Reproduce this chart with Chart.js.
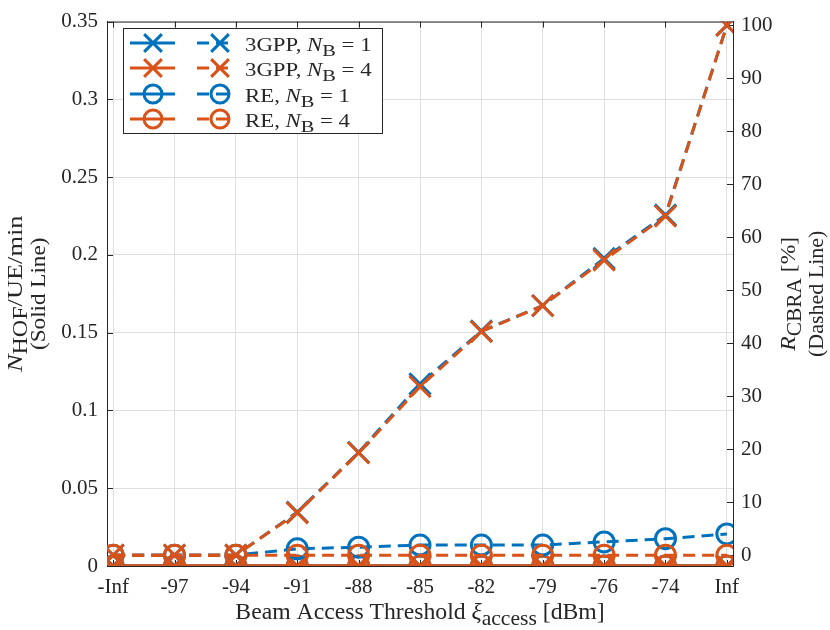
<!DOCTYPE html>
<html>
<head>
<meta charset="utf-8">
<script src="https://cdn.jsdelivr.net/npm/chart.js@4.4.1/dist/chart.umd.min.js"></script>
<style>
  html, body { margin: 0; padding: 0; background: #fff; }
  canvas { display: block; }
</style>
</head>
<body>
<canvas id="chart" width="830" height="630"></canvas>
<script>
// Beam access threshold sweep: HOF rate (left axis, solid) and CBRA share (right axis, dashed)

const CATEGORIES = ['-Inf', '-97', '-94', '-91', '-88', '-85', '-82', '-79', '-76', '-74', 'Inf'];

// N_HOF / UE / min  (left axis, solid lines)
const HOF_3GPP_NB1 = [0, 0, 0, 0, 0, 0, 0, 0, 0, 0, 0];
const HOF_3GPP_NB4 = [0, 0, 0, 0, 0, 0, 0, 0, 0, 0, 0];
const HOF_RE_NB1 = [0, 0, 0, 0, 0, 0, 0, 0, 0, 0, 0];
const HOF_RE_NB4 = [0, 0, 0, 0, 0, 0, 0, 0, 0, 0, 0];

// R_CBRA [%]  (right axis, dashed lines)
const CBRA_3GPP_NB1 = [0, 0, 0, 8.1, 19.4, 32.3, 42.3, 47.1, 56.0, 64.2, 100];
const CBRA_3GPP_NB4 = [0, 0, 0, 8.0, 19.3, 31.8, 42.2, 47.1, 55.7, 64.0, 100];
const CBRA_RE_NB1 = [0, 0, 0, 1.2, 1.5, 1.9, 1.9, 1.9, 2.5, 3.1, 4.0];
const CBRA_RE_NB4 = [0, 0, 0, 0, 0, 0, 0, 0, 0, 0, 0];

const LEFT_TICKS = [0, 0.05, 0.1, 0.15, 0.2, 0.25, 0.3, 0.35];
const RIGHT_TICKS = [0, 10, 20, 30, 40, 50, 60, 70, 80, 90, 100];

const BLUE = '#0072BD';
const ORANGE = '#D95319';
const INK = '#262626';
const GRID = '#dfdfdf';
const FONT = '"Liberation Serif", "Times New Roman", serif';
const NONE = 'rgba(0,0,0,0)';

function toPoints(values) {
  return values.map((v, i) => ({ x: i + 1, y: v }));
}

function markerRadius(marker) {
  return marker === 'crossRot' ? 15 : 10;
}

function series(label, values, color, marker, axis, dashed, order) {
  const r = markerRadius(marker);
  return {
    label,
    data: toPoints(values),
    yAxisID: axis,
    borderColor: color,
    backgroundColor: NONE,
    borderWidth: 3,
    borderDash: dashed ? [12, 7] : [],
    pointStyle: marker,
    pointRadius: r,
    pointHoverRadius: r,
    pointBorderWidth: 3,
    pointBorderColor: color,
    pointBackgroundColor: NONE,
    tension: 0,
    clip: 0,
    order,
  };
}

// rich text: parts = [{t, i (italic), s (subscript)}]; stretch widens the text like the TeX font
function drawRich(ctx, parts, x, y, size, align, stretch = 1, subDrop = 0.32) {
  const fontFor = p => (p.i ? 'italic ' : '') + Math.round(p.s ? size * 0.92 : size) + 'px ' + FONT;
  let w = 0;
  parts.forEach(p => { ctx.font = fontFor(p); w += ctx.measureText(p.t).width; });
  ctx.save();
  ctx.translate(x, y);
  ctx.scale(stretch, 1);
  let cx = align === 'center' ? -w / 2 : 0;
  ctx.textAlign = 'left';
  ctx.textBaseline = 'alphabetic';
  parts.forEach(p => {
    ctx.font = fontFor(p);
    ctx.fillText(p.t, cx, p.s ? size * subDrop : 0);
    cx += ctx.measureText(p.t).width;
  });
  ctx.restore();
}

const LEGEND_ITEMS = [
  { color: BLUE, marker: 'crossRot', parts: [{ t: '3GPP, ' }, { t: 'N', i: true }, { t: 'B', s: true }, { t: ' = 1' }] },
  { color: ORANGE, marker: 'crossRot', parts: [{ t: '3GPP, ' }, { t: 'N', i: true }, { t: 'B', s: true }, { t: ' = 4' }] },
  { color: BLUE, marker: 'circle', parts: [{ t: 'RE, ' }, { t: 'N', i: true }, { t: 'B', s: true }, { t: ' = 1' }] },
  { color: ORANGE, marker: 'circle', parts: [{ t: 'RE, ' }, { t: 'N', i: true }, { t: 'B', s: true }, { t: ' = 4' }] },
];

const framePlugin = {
  id: 'frame',
  beforeDatasetsDraw(chart) {
    const { ctx, chartArea: a, scales } = chart;
    ctx.save();
    ctx.strokeStyle = INK;
    ctx.lineWidth = 1;
    ctx.beginPath();
    ctx.moveTo(a.left, a.top + 0.5);
    ctx.lineTo(a.right, a.top + 0.5);
    scales.x.ticks.forEach(t => {
      const px = Math.round(scales.x.getPixelForValue(t.value)) + 0.5;
      ctx.moveTo(px, a.bottom); ctx.lineTo(px, a.bottom - 6);
      ctx.moveTo(px, a.top); ctx.lineTo(px, a.top + 6);
    });
    scales.yL.ticks.forEach(t => {
      const py = Math.round(scales.yL.getPixelForValue(t.value)) + 0.5;
      ctx.moveTo(a.left, py); ctx.lineTo(a.left + 6, py);
    });
    scales.yR.ticks.forEach(t => {
      const py = Math.round(scales.yR.getPixelForValue(t.value)) + 0.5;
      ctx.moveTo(a.right, py); ctx.lineTo(a.right - 6, py);
    });
    ctx.stroke();
    ctx.restore();
  },
  afterDraw(chart) {
    const { ctx, chartArea: a } = chart;
    const midY = (a.top + a.bottom) / 2;
    ctx.save();
    ctx.fillStyle = INK;

    // x title
    drawRich(ctx, [{ t: 'Beam Access Threshold ' }, { t: 'ξ', i: true }, { t: 'access', s: true }, { t: ' [dBm]' }],
      (a.left + a.right) / 2, 619, 23, 'center', 1.03, 0.25);

    // left title
    ctx.save();
    ctx.translate(22, midY);
    ctx.rotate(-Math.PI / 2);
    drawRich(ctx, [{ t: 'N', i: true }, { t: 'HOF', s: true }, { t: '/UE/min' }], 0, 0, 22, 'center', 1.2, 0.22);
    drawRich(ctx, [{ t: '(Solid Line)' }], 0, 23, 22, 'center', 1.05);
    ctx.restore();

    // right title
    ctx.save();
    ctx.translate(795, midY);
    ctx.rotate(-Math.PI / 2);
    drawRich(ctx, [{ t: 'R', i: true }, { t: 'CBRA', s: true }, { t: ' [%]' }], 0, 0, 22, 'center', 1.07, 0.28);
    drawRich(ctx, [{ t: '(Dashed Line)' }], 0, 28, 22, 'center', 1);
    ctx.restore();

    // legend
    const box = { x: 123.5, y: 28.5, w: 259, h: 105 };
    ctx.fillStyle = '#fff';
    ctx.fillRect(box.x, box.y, box.w, box.h);
    ctx.strokeStyle = INK;
    ctx.lineWidth = 1;
    ctx.strokeRect(box.x, box.y, box.w, box.h);
    const rowY = [43, 68, 94, 119];
    LEGEND_ITEMS.forEach((item, i) => {
      const y = rowY[i];
      ctx.strokeStyle = item.color;
      ctx.fillStyle = NONE;
      ctx.lineWidth = 3;
      ctx.setLineDash([]);
      ctx.beginPath(); ctx.moveTo(130, y); ctx.lineTo(175, y); ctx.stroke();
      ctx.setLineDash([12, 7]);
      ctx.beginPath(); ctx.moveTo(197, y); ctx.lineTo(233, y); ctx.stroke();
      ctx.setLineDash([]);
      const r = item.marker === 'crossRot' ? 12.5 : 9;
      [153, 220].forEach(mx => {
        Chart.helpers.drawPoint(ctx, { pointStyle: item.marker, radius: r, borderWidth: 3, rotation: 0 }, mx, y);
      });
      ctx.fillStyle = INK;
      drawRich(ctx, item.parts, 245, y + 8, 19, 'left', 1.2, 0.28);
    });
    ctx.restore();
  },
};

const tickFont = { family: FONT, size: 21 };

new Chart(document.getElementById('chart'), {
  type: 'line',
  data: {
    datasets: [
      series('CBRA 3GPP NB=4', CBRA_3GPP_NB4, ORANGE, 'crossRot', 'yR', true, 1),
      series('CBRA RE NB=4', CBRA_RE_NB4, ORANGE, 'circle', 'yR', true, 2),
      series('CBRA 3GPP NB=1', CBRA_3GPP_NB1, BLUE, 'crossRot', 'yR', true, 3),
      series('CBRA RE NB=1', CBRA_RE_NB1, BLUE, 'circle', 'yR', true, 4),
      series('HOF RE NB=4', HOF_RE_NB4, ORANGE, 'circle', 'yL', false, 5),
      series('HOF 3GPP NB=4', HOF_3GPP_NB4, ORANGE, 'crossRot', 'yL', false, 6),
      series('HOF RE NB=1', HOF_RE_NB1, BLUE, 'circle', 'yL', false, 7),
      series('HOF 3GPP NB=1', HOF_3GPP_NB1, BLUE, 'crossRot', 'yL', false, 8),
    ],
  },
  options: {
    responsive: false,
    animation: false,
    events: [],
    layout: { padding: { top: 12, left: 0, right: 0, bottom: 0 } },
    plugins: { legend: { display: false }, tooltip: { enabled: false } },
    scales: {
      x: {
        type: 'linear',
        min: 0.9,
        max: 11.1,
        afterBuildTicks: s => { s.ticks = CATEGORIES.map((c, i) => ({ value: i + 1 })); },
        afterFit: s => { s.height = 64; },
        grid: { color: GRID, drawTicks: false },
        border: { color: INK, width: 1 },
        ticks: {
          font: tickFont, color: INK, padding: 9, autoSkip: false, maxRotation: 0,
          callback: v => CATEGORIES[Math.round(v) - 1],
        },
      },
      yL: {
        position: 'left',
        min: 0,
        max: 0.35,
        afterBuildTicks: s => { s.ticks = LEFT_TICKS.map(v => ({ value: v })); },
        afterFit: s => { s.width = 107; },
        grid: { color: GRID, drawTicks: false },
        border: { color: INK, width: 1 },
        ticks: { font: tickFont, color: INK, padding: 9, callback: v => String(+v.toFixed(2)) },
      },
      yR: {
        position: 'right',
        min: -2.05,
        max: 100.7,
        afterBuildTicks: s => { s.ticks = RIGHT_TICKS.map(v => ({ value: v })); },
        afterFit: s => { s.width = 97; },
        grid: { display: false, drawTicks: false },
        border: { color: INK, width: 1 },
        ticks: { font: tickFont, color: INK, padding: 8, callback: v => String(v) },
      },
    },
  },
  plugins: [framePlugin],
});
</script>
</body>
</html>
